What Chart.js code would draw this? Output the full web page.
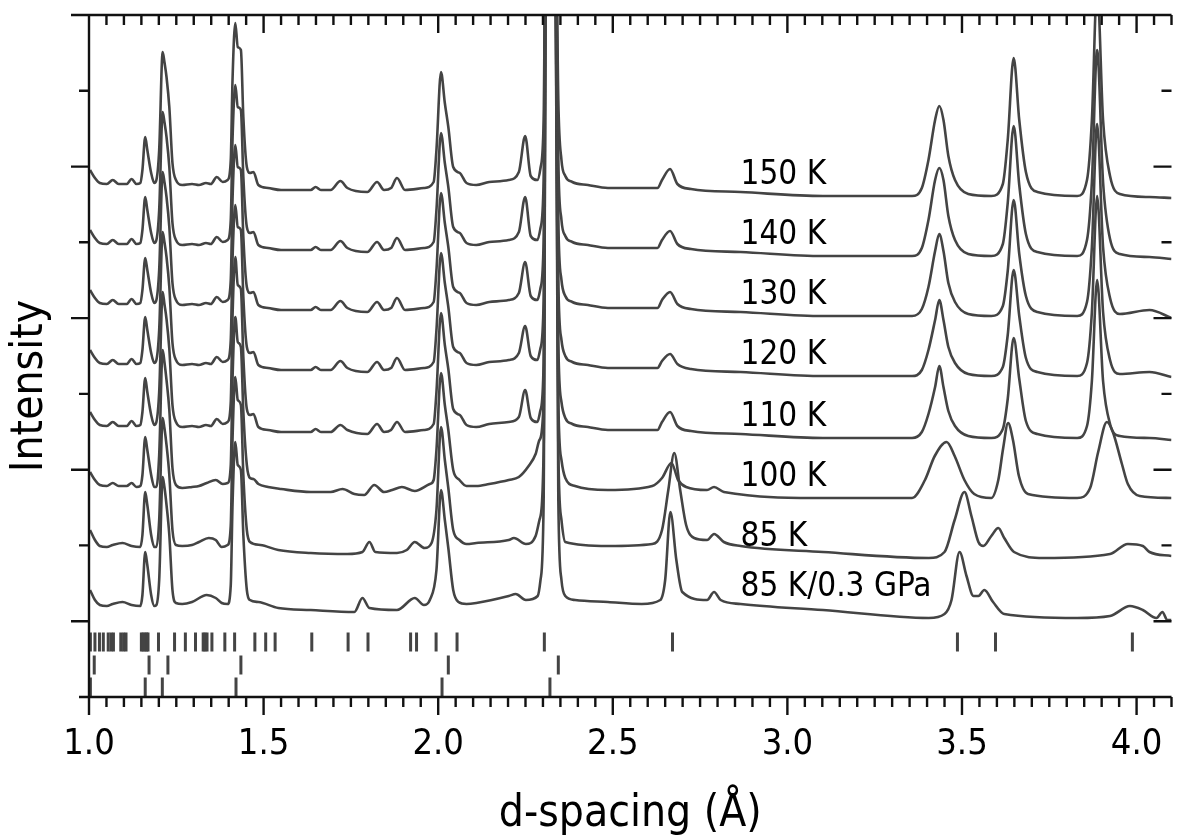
<!DOCTYPE html>
<html>
<head>
<meta charset="utf-8">
<script src="https://cdn.jsdelivr.net/npm/chart.js@4.4.1/dist/chart.umd.min.js"></script>
<style>
  html, body { margin: 0; padding: 0; background: #fff; overflow: hidden; }
  #wrap { width: 1184px; height: 837px; }
</style>
</head>
<body>
<div id="wrap"><canvas id="canvasChart" width="1184" height="837"></canvas></div>
<script>
// d-spacing grid shared by the 150 K ... 110 K patterns
var dA = [
  1.003, 1.017, 1.031, 1.051, 1.068, 1.085, 1.108, 1.122, 1.136, 1.147,
  1.153, 1.161, 1.167, 1.178, 1.187, 1.193, 1.201, 1.211, 1.216, 1.222,
  1.230, 1.239, 1.249, 1.267, 1.295, 1.315, 1.335, 1.349, 1.366, 1.383,
  1.397, 1.406, 1.411, 1.419, 1.426, 1.435, 1.442, 1.452, 1.461, 1.471,
  1.485, 1.513, 1.550, 1.635, 1.649, 1.664, 1.692, 1.720, 1.740, 1.797,
  1.825, 1.845, 1.865, 1.882, 1.905, 1.959, 1.987, 1.995, 2.008, 2.019,
  2.029, 2.043, 2.062, 2.081, 2.109, 2.146, 2.202, 2.231, 2.249, 2.265,
  2.284, 2.293, 2.302, 2.310, 2.333, 2.344, 2.353, 2.364, 2.384, 2.429,
  2.486, 2.628, 2.641, 2.664, 2.685, 2.724, 2.866, 3.102, 3.357, 3.385,
  3.404, 3.423, 3.435, 3.447, 3.461, 3.480, 3.518, 3.584, 3.617, 3.631,
  3.648, 3.664, 3.683, 3.716, 3.830, 3.858, 3.872, 3.887, 3.904, 3.924,
  3.952, 4.037, 4.100
];
var i150 = [
  527, 519, 514, 513, 517, 513, 513, 518, 513, 514,
  527, 560, 547, 524, 514, 517, 547, 645, 635, 620,
  590, 534, 517, 512, 513, 512, 514, 513, 520, 515,
  517, 537, 617, 674, 650, 647, 580, 530, 524, 525,
  512, 509, 507, 507, 510, 507, 507, 516, 509, 505,
  515, 507, 509, 519, 507, 509, 515, 547, 625, 594,
  570, 530, 524, 514, 512, 515, 517, 525, 561, 521,
  517, 529, 577, 897, 897, 597, 537, 521, 515, 512,
  509, 509, 517, 528, 513, 508, 505, 501, 501, 509,
  537, 577, 591, 577, 541, 517, 503, 501, 513, 557,
  639, 577, 525, 505, 501, 517, 577, 712, 577, 521,
  503, 500, 499
];
var i140 = [
  467, 459, 454, 453, 457, 453, 453, 458, 453, 454,
  467, 500, 487, 464, 454, 457, 487, 585, 575, 560,
  530, 474, 457, 452, 453, 452, 454, 453, 460, 455,
  457, 477, 557, 612, 590, 587, 520, 470, 464, 465,
  452, 449, 447, 447, 450, 447, 447, 456, 449, 445,
  455, 447, 449, 459, 447, 449, 455, 487, 564, 534,
  510, 470, 464, 454, 452, 455, 457, 465, 500, 461,
  457, 469, 517, 897, 897, 537, 477, 461, 455, 452,
  449, 449, 457, 466, 453, 448, 445, 441, 441, 449,
  477, 517, 529, 517, 481, 457, 443, 441, 453, 494,
  571, 512, 463, 445, 441, 457, 515, 647, 515, 458,
  443, 440, 438
];
var i130 = [
  407, 399, 394, 393, 397, 393, 393, 398, 393, 394,
  407, 439, 427, 404, 394, 397, 427, 525, 515, 500,
  470, 414, 397, 392, 393, 392, 394, 393, 400, 395,
  397, 417, 497, 552, 530, 527, 460, 410, 404, 405,
  392, 389, 387, 387, 390, 387, 387, 396, 389, 385,
  395, 387, 389, 399, 387, 389, 395, 427, 504, 474,
  450, 410, 404, 394, 392, 395, 397, 404, 435, 401,
  397, 409, 457, 897, 897, 477, 417, 401, 395, 392,
  389, 389, 397, 405, 393, 388, 385, 381, 381, 388,
  410, 446, 463, 446, 414, 395, 383, 381, 391, 426,
  497, 443, 401, 385, 381, 395, 450, 573, 450, 399,
  383, 387, 379
];
var i120 = [
  347, 339, 334, 333, 337, 333, 333, 338, 333, 334,
  347, 380, 367, 344, 334, 337, 367, 465, 455, 440,
  410, 354, 337, 332, 333, 332, 334, 333, 340, 335,
  337, 357, 437, 492, 470, 467, 400, 350, 344, 345,
  332, 329, 327, 327, 330, 327, 327, 336, 329, 325,
  335, 327, 329, 339, 327, 329, 335, 367, 444, 414,
  390, 350, 344, 334, 332, 335, 337, 344, 371, 341,
  337, 349, 397, 897, 897, 417, 357, 341, 335, 332,
  329, 329, 336, 343, 333, 328, 325, 321, 321, 327,
  347, 377, 397, 377, 350, 334, 323, 321, 330, 362,
  427, 381, 339, 325, 321, 334, 385, 501, 385, 337,
  323, 325, 320
];
var i110 = [
  285, 277, 272, 271, 275, 271, 271, 276, 271, 272,
  285, 319, 305, 282, 272, 275, 305, 405, 393, 378,
  348, 292, 275, 270, 271, 270, 272, 271, 278, 273,
  275, 295, 380, 440, 412, 408, 340, 288, 282, 283,
  270, 267, 265, 265, 268, 265, 265, 272, 267, 263,
  273, 265, 267, 275, 265, 267, 273, 305, 384, 352,
  328, 288, 282, 272, 270, 273, 275, 280, 307, 279,
  275, 287, 335, 897, 897, 355, 295, 279, 273, 270,
  267, 267, 275, 285, 271, 266, 263, 259, 259, 265,
  283, 310, 331, 310, 286, 271, 261, 259, 268, 298,
  359, 318, 276, 263, 259, 271, 316, 417, 316, 273,
  261, 259, 257
];

var d100 = [
  1.003, 1.017, 1.031, 1.051, 1.068, 1.085, 1.108, 1.122, 1.136, 1.147,
  1.153, 1.161, 1.167, 1.178, 1.187, 1.193, 1.201, 1.211, 1.216, 1.222,
  1.230, 1.239, 1.249, 1.267, 1.295, 1.315, 1.337, 1.363, 1.383, 1.397,
  1.406, 1.411, 1.419, 1.426, 1.435, 1.442, 1.452, 1.461, 1.471, 1.485,
  1.513, 1.550, 1.635, 1.692, 1.726, 1.760, 1.788, 1.817, 1.845, 1.868,
  1.896, 1.933, 1.976, 1.987, 1.995, 2.008, 2.019, 2.029, 2.043, 2.061,
  2.081, 2.109, 2.146, 2.202, 2.231, 2.259, 2.279, 2.290, 2.302, 2.310,
  2.333, 2.344, 2.353, 2.364, 2.392, 2.486, 2.613, 2.641, 2.668, 2.687,
  2.710, 2.770, 2.790, 2.818, 3.102, 3.357, 3.394, 3.422, 3.456, 3.479,
  3.507, 3.535, 3.584, 3.604, 3.618, 3.632, 3.646, 3.663, 3.689, 3.830,
  3.867, 3.890, 3.915, 3.932, 3.958, 3.975, 4.009, 4.100
];
var i100 = [
  225, 217, 212, 211, 214, 211, 211, 214, 210, 211,
  222, 260, 247, 222, 210, 210, 242, 347, 335, 317,
  287, 229, 212, 209, 210, 211, 214, 217, 213, 214,
  232, 317, 380, 355, 350, 285, 232, 219, 218, 213,
  210, 208, 205, 205, 208, 203, 202, 212, 205, 207,
  210, 206, 213, 217, 247, 324, 292, 267, 227, 217,
  211, 211, 213, 217, 220, 231, 243, 257, 297, 897,
  897, 297, 237, 219, 211, 207, 211, 219, 234, 217,
  210, 207, 210, 205, 199, 199, 217, 241, 255, 241,
  217, 203, 199, 217, 249, 274, 257, 221, 203, 199,
  209, 245, 275, 265, 233, 213, 201, 199
];

var d85 = [
  1.003, 1.017, 1.031, 1.051, 1.068, 1.096, 1.122, 1.147, 1.153, 1.161,
  1.167, 1.178, 1.187, 1.193, 1.201, 1.211, 1.216, 1.222, 1.230, 1.239,
  1.249, 1.267, 1.295, 1.315, 1.343, 1.363, 1.380, 1.397, 1.406, 1.411,
  1.419, 1.426, 1.435, 1.442, 1.452, 1.461, 1.491, 1.542, 1.635, 1.740,
  1.783, 1.803, 1.820, 1.882, 1.910, 1.933, 1.961, 1.981, 1.995, 2.008,
  2.019, 2.029, 2.043, 2.061, 2.081, 2.109, 2.202, 2.217, 2.251, 2.279,
  2.290, 2.302, 2.310, 2.333, 2.344, 2.353, 2.364, 2.486, 2.613, 2.641,
  2.659, 2.676, 2.693, 2.710, 2.733, 2.770, 2.790, 2.818, 2.866, 3.102,
  3.405, 3.450, 3.479, 3.507, 3.527, 3.547, 3.561, 3.584, 3.604, 3.621,
  3.649, 3.734, 3.924, 3.975, 4.018, 4.037, 4.100
];
var i85 = [
  167, 157, 151, 150, 152, 154, 151, 150, 162, 205,
  192, 162, 150, 150, 177, 279, 269, 252, 222, 167,
  152, 151, 152, 155, 159, 157, 150, 152, 172, 257,
  320, 297, 292, 222, 167, 155, 152, 147, 144, 143,
  145, 155, 145, 144, 147, 155, 149, 154, 187, 270,
  237, 209, 167, 157, 153, 154, 157, 159, 153, 161,
  177, 247, 897, 897, 247, 177, 155, 151, 153, 167,
  207, 244, 207, 172, 159, 157, 163, 155, 151, 145,
  139, 145, 177, 205, 181, 155, 151, 161, 169, 159,
  145, 139, 143, 153, 151, 145, 141
];

var d85p = [
  1.003, 1.017, 1.031, 1.051, 1.068, 1.096, 1.122, 1.147, 1.153, 1.161,
  1.167, 1.178, 1.187, 1.193, 1.201, 1.211, 1.216, 1.222, 1.230, 1.239,
  1.249, 1.267, 1.295, 1.337, 1.363, 1.380, 1.397, 1.406, 1.411, 1.419,
  1.426, 1.435, 1.442, 1.452, 1.461, 1.485, 1.542, 1.635, 1.760, 1.783,
  1.803, 1.882, 1.933, 1.959, 1.976, 1.995, 2.008, 2.019, 2.029, 2.043,
  2.058, 2.081, 2.109, 2.202, 2.222, 2.251, 2.285, 2.293, 2.302, 2.310,
  2.333, 2.344, 2.353, 2.364, 2.392, 2.486, 2.583, 2.636, 2.650, 2.665,
  2.682, 2.699, 2.770, 2.790, 2.809, 2.866, 3.102, 3.405, 3.450, 3.470,
  3.493, 3.513, 3.533, 3.547, 3.564, 3.589, 3.621, 3.830, 3.924, 3.981,
  4.018, 4.057, 4.074, 4.088, 4.100
];
var i85p = [
  107, 97, 92, 91, 93, 95, 92, 91, 102, 145,
  132, 102, 91, 92, 117, 220, 210, 192, 162, 107,
  94, 93, 95, 102, 99, 94, 93, 112, 192, 255,
  232, 227, 162, 107, 97, 95, 89, 87, 85, 99,
  89, 87, 99, 92, 97, 127, 207, 177, 149, 107,
  95, 93, 94, 101, 103, 97, 101, 117, 197, 897,
  897, 197, 117, 101, 97, 95, 93, 97, 117, 185,
  137, 105, 97, 105, 97, 93, 87, 79, 83, 97,
  145, 121, 101, 101, 107, 95, 83, 79, 81, 91,
  87, 79, 85, 77, 77
];

// reflection markers (three phases)
var marks1 = [1.004, 1.017, 1.030, 1.041, 1.055, 1.063, 1.070, 1.091, 1.099, 1.106,
  1.150, 1.155, 1.160, 1.165, 1.169, 1.199, 1.245, 1.276, 1.305, 1.327, 1.332, 1.338,
  1.352, 1.389, 1.417, 1.475, 1.506, 1.533, 1.638, 1.742, 1.799, 1.921, 1.938, 1.994,
  2.054, 2.304, 2.671, 3.487, 3.596, 3.988];
var marks2 = [1.015, 1.172, 1.226, 1.435, 2.029, 2.344];
var marks3 = [1.004, 1.161, 1.210, 1.421, 2.011, 2.320];
var markRows = [55, 32, 10];

var traceNames = ["150 K", "140 K", "130 K", "120 K", "110 K", "100 K", "85 K", "85 K/0.3 GPa"];
var labelD = 2.866;
var labelLevels = [522, 462, 402, 342, 280, 220, 160, 110];

var yTicks = [0, 75.8, 151.6, 227.3, 303.1, 378.9, 454.7, 530.4, 606.2, 682];

var FONT = "'DejaVu Sans Condensed', 'DejaVu Sans', sans-serif";
var INK = '#444';

function pairs(xs, ys) {
  return xs.map(function (x, i) { return { x: x, y: ys[i] }; });
}
function trace(xs, ys) {
  return {
    data: pairs(xs, ys),
    showLine: true,
    borderColor: INK,
    borderWidth: 2.6,
    pointRadius: 0,
    cubicInterpolationMode: 'monotone'
  };
}
function markers(ds, level) {
  return {
    data: ds.map(function (d) { return { x: d, y: level }; }),
    showLine: false,
    pointStyle: 'line',
    pointRotation: 90,
    pointRadius: 9.5,
    pointBorderWidth: 3,
    pointBorderColor: INK,
    pointBackgroundColor: INK
  };
}
function isMajorX(v) { return Math.round(v * 20) % 10 === 0; }

var framePlugin = {
  id: 'frame',
  afterDraw: function (chart) {
    var ctx = chart.ctx, a = chart.chartArea;
    var sx = chart.scales.x, sy = chart.scales.y;
    ctx.save();
    ctx.strokeStyle = '#111';
    ctx.lineWidth = 2.4;
    ctx.beginPath();
    ctx.moveTo(a.left, a.top); ctx.lineTo(a.right, a.top);
    ctx.moveTo(a.left, a.top); ctx.lineTo(a.left, a.bottom);
    ctx.moveTo(a.left, a.bottom); ctx.lineTo(a.right, a.bottom);
    sx.ticks.forEach(function (t) {
      var p = sx.getPixelForValue(t.value);
      var len = isMajorX(t.value) ? 18 : 10;
      ctx.moveTo(p, a.bottom); ctx.lineTo(p, a.bottom + len);
      ctx.moveTo(p, a.top); ctx.lineTo(p, a.top + len);
    });
    sy.ticks.forEach(function (t, i) {
      var p = sy.getPixelForValue(t.value);
      var len = i % 2 ? 18 : 10;
      ctx.moveTo(a.left - len, p); ctx.lineTo(a.left, p);
      ctx.moveTo(a.right - len, p); ctx.lineTo(a.right, p);
    });
    ctx.stroke();

    // trace labels
    ctx.fillStyle = '#000';
    ctx.font = '33px ' + FONT;
    ctx.textAlign = 'left';
    ctx.textBaseline = 'middle';
    traceNames.forEach(function (name, i) {
      ctx.fillText(name, sx.getPixelForValue(labelD), sy.getPixelForValue(labelLevels[i]));
    });

    // axis titles
    ctx.font = '44px ' + FONT;
    ctx.textAlign = 'center';
    ctx.textBaseline = 'alphabetic';
    ctx.fillText('d-spacing (\u00C5)', (a.left + a.right) / 2, a.bottom + 129);
    ctx.translate(42, (a.top + a.bottom) / 2 + 30);
    ctx.rotate(-Math.PI / 2);
    ctx.fillText('Intensity', 0, 0);
    ctx.restore();
  }
};

var datasets = [
  trace(dA, i150), trace(dA, i140), trace(dA, i130), trace(dA, i120), trace(dA, i110),
  trace(d100, i100), trace(d85, i85), trace(d85p, i85p),
  markers(marks1, markRows[0]), markers(marks2, markRows[1]), markers(marks3, markRows[2])
];

var chartObject = new Chart(document.getElementById('canvasChart').getContext('2d'), {
  type: 'scatter',
  data: { datasets: datasets },
  options: {
    responsive: false,
    animation: false,
    layout: { padding: { top: 15, right: 2, left: 0, bottom: 0 } },
    plugins: { legend: { display: false }, tooltip: { enabled: false } },
    scales: {
      x: {
        type: 'linear',
        min: 1.0,
        max: 4.1,
        grid: { display: false, drawTicks: false },
        border: { display: false },
        ticks: {
          stepSize: 0.05,
          autoSkip: false,
          maxRotation: 0,
          minRotation: 0,
          padding: 26,
          color: '#000',
          font: { family: FONT, size: 36 },
          callback: function (v) { return isMajorX(v) ? v.toFixed(1) : ''; }
        },
        afterFit: function (s) { s.height = 140; s.paddingLeft = 0; s.paddingRight = 0; }
      },
      y: {
        type: 'linear',
        min: 0,
        max: 682,
        grid: { display: false, drawTicks: false },
        border: { display: false },
        ticks: { display: false },
        afterBuildTicks: function (s) { s.ticks = yTicks.map(function (v) { return { value: v }; }); },
        afterFit: function (s) { s.width = 89; s.paddingTop = 0; s.paddingBottom = 0; }
      }
    }
  },
  plugins: [framePlugin]
});
</script>
</body>
</html>
